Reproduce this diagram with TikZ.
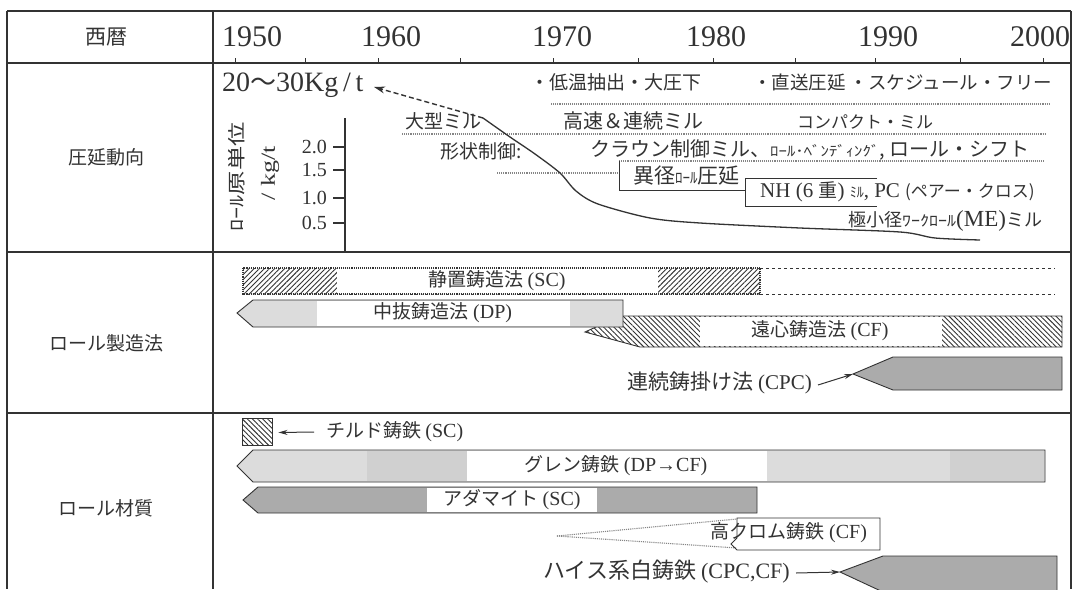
\documentclass[tikz,border=0pt]{standalone}
\usepackage{graphicx}
\usepackage{fontspec}
\setmainfont{Liberation Serif}
\newfontfamily\jp{Noto Sans CJK JP}
\usetikzlibrary{patterns.meta,arrows.meta}
\definecolor{ink}{HTML}{333333}
\definecolor{lg}{HTML}{DCDCDC}
\definecolor{lgd}{HTML}{D0D0D0}
\definecolor{mg}{HTML}{ABABAB}
\newcommand\setfs[1]{\fontsize{#1}{#1}\selectfont}
\tikzset{
  gridline/.style={draw=ink, line width=1.3pt},
  jt/.style={font=\jp\setfs{19}, text=ink, inner sep=0pt},
  lt/.style={font=\setfs{20}, text=ink, inner sep=0pt},
  yr/.style={font=\setfs{30}, text=ink, inner sep=0pt},
  guide/.style={draw=ink!60, line width=1.1pt, densely dotted},
  barline/.style={draw=ink, line width=0.9pt},
  hatchNE/.style={pattern={Lines[angle=45,distance=3.6pt,line width=0.9pt]}, pattern color=ink},
  hatchNW/.style={pattern={Lines[angle=-45,distance=3.6pt,line width=0.9pt]}, pattern color=ink},
  ptr/.style={draw=ink, line width=1pt, -{Stealth[length=9pt,width=5pt]}},
}
\begin{document}
\begin{tikzpicture}[x=1pt,y=-1pt]
\useasboundingbox[fill=white] (0,0) rectangle (1076,589);
% ---------- table grid ----------
\draw[gridline] (7,11) -- (1071,11);
\draw[gridline] (7,63) -- (1071,63);
\draw[gridline] (7,252) -- (1071,252);
\draw[gridline] (7,413) -- (1071,413);
\draw[gridline] (7,11) -- (7,589);
\draw[gridline] (213,11) -- (213,589);
\draw[gridline] (1071,11) -- (1071,589);
\foreach \t in {235,305,378,460,553,638,713,795,875,960,1043}
  \draw[ink, line width=0.8pt] (\t,63) -- (\t,58);
% ---------- header ----------
\node[jt, font=\jp\setfs{21}] (hyear) at (106,37) {西暦};
\node[yr] (y1950) at (252,37) {1950};
\node[yr] (y1960) at (391,37) {1960};
\node[yr] (y1970) at (562,37) {1970};
\node[yr] (y1980) at (716,37) {1980};
\node[yr] (y1990) at (888,37) {1990};
\node[yr] (y2000) at (1040,37) {2000};
% ---------- row labels ----------
\node[jt] (hroll) at (106,157) {圧延動向};
\node[jt] (hmake) at (106,343) {ロール製造法};
\node[jt] (hmat)  at (106,508) {ロール材質};
% ---------- rolling trends ----------
\node[lt, font=\setfs{28}, anchor=west] (kgt) at (222,85) {20{\jp\setfs{26}〜}30Kg\,/\,t};
\node[jt, anchor=west] (t1) at (530,82) {・低温抽出・大圧下};
\node[jt, font=\jp\setfs{18.5}, anchor=west] (t2) at (753,82) {・直送圧延\ ・スケジュール・フリー};
\draw[guide] (551,104) -- (1049,104);
\node[jt, anchor=west] (t3) at (405,121) {大型ミル};
\node[jt, font=\jp\setfs{20}, anchor=west] (t4) at (563,121) {高速＆連続ミル};
\node[jt, font=\jp\setfs{17}, anchor=west] (t5) at (797,122) {コンパクト・ミル};
\draw[guide] (402,134) -- (1045,134);
\node[jt, anchor=west] (t6) at (440,151) {形状制御:};
\node[jt, font=\jp\setfs{20}, anchor=west] (t7) at (590,150) {クラウン制御ミル、{\setfs{14}\scalebox{1.2}[1]{ﾛｰﾙ･ﾍﾞﾝﾃﾞｨﾝｸﾞ}}, ロール・シフト};
\draw[guide] (619,161) -- (1045,161);
\coordinate (ikstart) at (497,173);
\coordinate (iktl) at (619,161);
\draw[guide] (ikstart) -- (619,173);
\draw[barline] (iktl) -- (619,190) -- (745,190);
\node[jt, font=\jp\setfs{21}, anchor=west] (t8) at (633,176) {異径{\setfs{15}ﾛｰﾙ}圧延};
\draw[barline] (877,178) -- (745,178) -- (745,206) -- (877,206);
\node[lt, font=\setfs{21}, anchor=west] (t9) at (760,192) {NH (6 {\jp\setfs{19}重}) {\jp\setfs{14}ﾐﾙ}, PC {\jp\setfs{17}(ペアー・クロス)}};
\node[jt, font=\jp\setfs{18}, anchor=west] (t10) at (848,221) {極小径{\setfs{20}\scalebox{0.9}[0.75]{ﾜｰｸﾛｰﾙ}}{\rmfamily\setfs{23}(ME)}ミル};
% axis
\coordinate (axtop) at (345,118);
\coordinate (axbot) at (345,252);
\draw[ink, line width=1.2pt] (axtop) -- (axbot);
\foreach \yy/\lab in {147/2.0,170/1.5,198/1.0,223/0.5}{
  \draw[ink, line width=1.2pt] (333,\yy) -- (345,\yy);
  \node[lt, anchor=east] at (327,\yy) {\lab};
}
\node[jt, font=\jp\setfs{18}, rotate=90] (ylab1) at (237,177) {\scalebox{1.35}[1]{ﾛｰﾙ原単位}};
\node[lt, font=\setfs{20}, rotate=90] (ylab2) at (270,173) {\scalebox{1.3}[1]{/ kg/t}};
% curve
\coordinate (cstart) at (483,118);
\coordinate (ctip) at (374,87);
\draw[ink, line width=1.4pt, dash pattern=on 5pt off 3pt, -{Stealth[length=11pt,width=7pt]}] (cstart) -- (ctip);
\draw[ink, line width=1.3pt] plot[smooth, tension=0.5] coordinates {(483,118) (510,137) (535,154) (560,173) (576,191) (598,204) (650,218) (700,223) (800,228) (900,232) (935,238) (980,240)};
% ---------- manufacturing ----------
% SC bar
\fill[hatchNE] (243,268) rectangle (760,294);
\fill[white] (337,268) rectangle (658,294);
\draw[ink, line width=1.1pt, densely dotted] (243,268) rectangle (760,294);
\node[jt] (sc) at (497,281) {静置鋳造法 {\rmfamily\setfs{20}(SC)}};
\draw[ink, line width=1pt, dashed] (760,268) -- (1055,268);
\draw[ink, line width=1pt, dashed] (760,294) -- (1055,294);
% CF bar
\fill[hatchNW] (585,332) -- (620,316) -- (1062,316) -- (1062,347) -- (640,347) -- cycle;
\fill[white] (700,317) rectangle (942,346);
\draw[barline] (585,332) -- (620,316) -- (1062,316) -- (1062,347) -- (640,347) -- cycle;
\node[jt] (cf) at (820,331) {遠心鋳造法 {\rmfamily\setfs{20}(CF)}};
% DP bar
\fill[lg] (237,313) -- (253,300) -- (623,300) -- (623,327) -- (253,327) -- cycle;
\fill[white] (317,301) rectangle (570,326);
\draw[barline] (237,313) -- (253,300) -- (623,300) -- (623,327) -- (253,327) -- cycle;
\node[jt] (dp) at (443,313) {中抜鋳造法 {\rmfamily\setfs{20}(DP)}};
% CPC
\node[jt, font=\jp\setfs{21}, anchor=east] (cpc) at (812,383) {連続鋳掛け法 {\rmfamily\setfs{21}(CPC)}};
\coordinate (cpctip) at (853,374);
\fill[mg] (cpctip) -- (893,357) -- (1062,357) -- (1062,390) -- (893,390) -- cycle;
\draw[barline] (cpctip) -- (893,357) -- (1062,357) -- (1062,390) -- (893,390) -- cycle;
\draw[ptr] ([xshift=6pt,yshift=-2pt]cpc.east) -- (cpctip);
% ---------- materials ----------
\node[draw=ink, line width=0.9pt, hatchNW, minimum width=30pt, minimum height=27pt, inner sep=0] (chsq) at (257,431.5) {};
\node[jt, anchor=west] (chill) at (326,432) {チルド鋳鉄 {\rmfamily\setfs{20}(SC)}};
\draw[ptr] ([xshift=-12pt]chill.west) -- ([xshift=6pt,yshift=-1pt]chsq.east);
% Grain
\fill[lg] (237,466) -- (253,450) -- (1045,450) -- (1045,482) -- (253,482) -- cycle;
\fill[lgd] (367,451) rectangle (467,481);
\fill[lgd] (950,451) rectangle (1044,481);
\fill[white] (467,451) rectangle (767,481);
\draw[barline] (237,466) -- (253,450) -- (1045,450) -- (1045,482) -- (253,482) -- cycle;
\node[jt] (grain) at (616,466) {グレン鋳鉄 {\rmfamily\setfs{20}(DP→CF)}};
% Adamite
\fill[mg] (243,500) -- (258,487) -- (757,487) -- (757,513) -- (258,513) -- cycle;
\fill[white] (427,488) rectangle (597,512);
\draw[barline] (243,500) -- (258,487) -- (757,487) -- (757,513) -- (258,513) -- cycle;
\node[jt] (adam) at (512,500) {アダマイト {\rmfamily\setfs{20}(SC)}};
% High chrome
\coordinate (hcpt) at (557,536);
\draw[guide] (hcpt) -- (737,519);
\draw[guide] (hcpt) -- (737,548);
\draw[barline] (737,538) -- (737,518) -- (880,518) -- (880,550) -- (737,550) -- (731,544) -- (737,538);
\node[jt] (hcr) at (789,533) {高クロム鋳鉄 {\rmfamily\setfs{20}(CF)}};
% HSS
\node[jt, font=\jp\setfs{22}, anchor=east] (hss) at (790,572) {ハイス系白鋳鉄 {\rmfamily\setfs{22}(CPC,CF)}};
\coordinate (hsstip) at (840,572);
\fill[mg] (hsstip) -- (883,556) -- (1057,556) -- (1057,592) -- (883,592) -- cycle;
\draw[barline] (hsstip) -- (883,556) -- (1057,556) -- (1057,592) -- (883,592) -- cycle;
\draw[ptr] ([xshift=6pt,yshift=-1pt]hss.east) -- (hsstip);
\end{tikzpicture}
\end{document}
